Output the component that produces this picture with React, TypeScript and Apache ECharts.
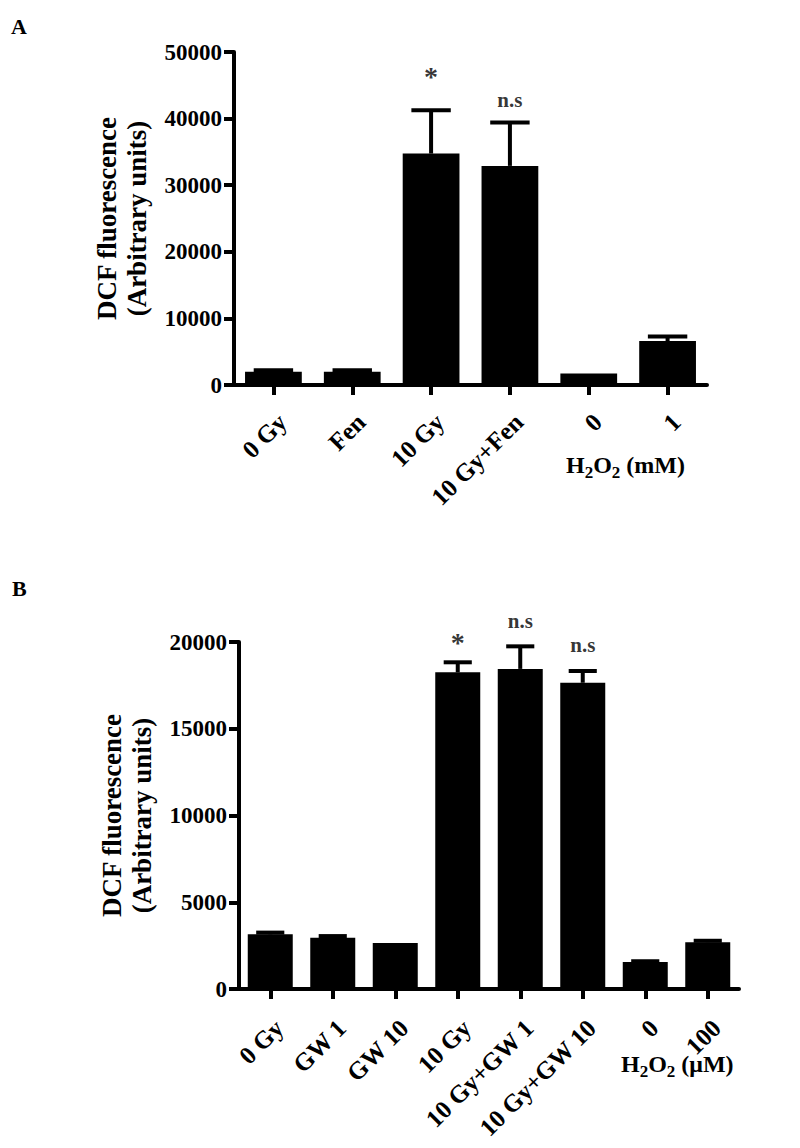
import React, { useEffect, useRef } from 'react';
import * as echarts from 'echarts';

const FONT = "'Liberation Serif', 'Times New Roman', serif";

// Panel A
const aCategories = ['0 Gy', 'Fen', '10 Gy', '10 Gy+Fen', '0', '1'];
const aValues = [2000, 2000, 34750, 32900, 1730, 6600];
const aErrors = [200, 200, 6500, 6500, 0, 700];
const aMarks = ['', '', '*', 'n.s', '', ''];
const aMarkY = [0, 0, 46300, 42800, 0, 0];
const aTicks = { min: 0, max: 50000, interval: 10000 };

// Panel B
const bCategories = ['0 Gy', 'GW 1', 'GW 10', '10 Gy', '10 Gy+GW 1', '10 Gy+GW 10', '0', '100'];
const bValues = [3150, 2950, 2650, 18250, 18450, 17650, 1550, 2700];
const bErrors = [100, 100, 0, 580, 1300, 680, 50, 80];
const bMarks = ['', '', '', '*', 'n.s', 'n.s', '', ''];
const bMarkY = [0, 0, 0, 19950, 21200, 19850, 0, 0];
const bTicks = { min: 0, max: 20000, interval: 5000 };

const axisTitle = 'DCF fluorescence\n(Arbitrary units)';

const makeErr = (capRatio: number) => (params: any, api: any) => {
  const i = api.value(0);
  const v = api.value(1);
  const e = api.value(2);
  if (!e) return null;
  const base = api.coord([i, v]);
  const top = api.coord([i, v + e]);
  const band = api.size([1, 0])[0];
  const half = (band * capRatio) / 2;
  return {
    type: 'group',
    children: [
      { type: 'line', shape: { x1: base[0], y1: base[1], x2: top[0], y2: top[1] }, style: { stroke: '#000', lineWidth: 4 } },
      { type: 'line', shape: { x1: top[0] - half, y1: top[1], x2: top[0] + half, y2: top[1] }, style: { stroke: '#000', lineWidth: 4 } },
    ],
  };
};

function xAxisCfg(gridIndex: number, data: string[], margin: number) {
  return {
    gridIndex,
    type: 'category',
    data,
    axisLine: { show: true, lineStyle: { color: '#000', width: 4 } },
    axisTick: { show: true, alignWithLabel: true, length: 10, lineStyle: { color: '#000', width: 4 } },
    axisLabel: {
      rotate: 45,
      interval: 0,
      fontSize: 25,
      fontWeight: 'bold',
      fontFamily: FONT,
      color: '#000',
      margin,
      align: 'right',
      verticalAlign: 'top',
    },
  };
}

function yAxisCfg(gridIndex: number, t: { min: number; max: number; interval: number }) {
  return {
    gridIndex,
    type: 'value',
    min: t.min,
    max: t.max,
    interval: t.interval,
    splitLine: { show: false },
    axisLine: { show: true, lineStyle: { color: '#000', width: 4 } },
    axisTick: { show: true, length: 10, lineStyle: { color: '#000', width: 4 } },
    axisLabel: { fontSize: 23, fontWeight: 'bold', fontFamily: FONT, color: '#000', margin: 12, formatter: (v: number) => String(v) },
    name: axisTitle,
    nameLocation: 'middle',
    nameGap: 82,
    nameTextStyle: { fontSize: 27, fontWeight: 'bold', fontFamily: FONT, color: '#000', lineHeight: 30 },
  };
}

function seriesFor(idx: number, values: number[], errors: number[], marks: string[], markY: number[], capRatio: number) {
  return [
    { type: 'bar', xAxisIndex: idx, yAxisIndex: idx, data: values, barWidth: '72%', itemStyle: { color: '#000' }, silent: true },
    {
      type: 'custom',
      xAxisIndex: idx,
      yAxisIndex: idx,
      data: values.map((v, i) => [i, v, errors[i]]),
      renderItem: makeErr(capRatio),
      z: 3,
      clip: false,
      silent: true,
    },
    {
      type: 'scatter',
      xAxisIndex: idx,
      yAxisIndex: idx,
      data: marks.map((m, i) => (m ? [i, markY[i]] : null)).filter((d) => d !== null),
      symbolSize: 1,
      itemStyle: { color: 'rgba(0,0,0,0)' },
      clip: false,
      silent: true,
      label: {
        show: true,
        position: 'inside',
        formatter: (p: any) => (marks[p.value[0]] === '*' ? '{star|*}' : '{ns|' + marks[p.value[0]] + '}'),
        rich: {
          star: { fontSize: 28, fontWeight: 'bold', fontFamily: FONT, color: '#000' },
          ns: { fontSize: 21, fontWeight: 'bold', fontFamily: FONT, color: '#000' },
        },
      },
    },
  ];
}

const richH2O2 = (unit: string) => ({
  text: `{n|H}{s|2}{n|O}{s|2}{n| (${unit})}`,
  rich: {
    n: { fontSize: 24, fontWeight: 'bold', fontFamily: FONT, fill: '#000', verticalAlign: 'bottom', lineHeight: 30, padding: [0, 0, 4, 0] },
    s: { fontSize: 17, fontWeight: 'bold', fontFamily: FONT, fill: '#000', verticalAlign: 'bottom', lineHeight: 30 },
  },
});

export default function App() {
  const ref = useRef<HTMLDivElement>(null);
  useEffect(() => {
    if (!ref.current) return;
    const chart = echarts.init(ref.current, null, { renderer: 'svg' });
    chart.setOption({
      animation: false,
      backgroundColor: '#fff',
      grid: [
        { left: 234, top: 52, width: 473, height: 333 },
        { left: 239, top: 642, width: 500, height: 347 },
      ],
      xAxis: [xAxisCfg(0, aCategories, 24), xAxisCfg(1, bCategories, 26)],
      yAxis: [yAxisCfg(0, aTicks), yAxisCfg(1, bTicks)],
      series: [
        ...seriesFor(0, aValues, aErrors, aMarks, aMarkY, 0.5),
        ...seriesFor(1, bValues, bErrors, bMarks, bMarkY, 0.45),
      ],
      graphic: [
        { type: 'text', left: 11, top: 15, style: { text: 'A', fontSize: 22, fontWeight: 'bold', fontFamily: FONT, fill: '#000' } },
        { type: 'text', left: 12, top: 577, style: { text: 'B', fontSize: 22, fontWeight: 'bold', fontFamily: FONT, fill: '#000' } },
        { type: 'text', left: 566, top: 453, style: richH2O2('mM') },
        { type: 'text', left: 621, top: 1052, style: richH2O2('\u03BCM') },
      ],
    });
    return () => chart.dispose();
  }, []);
  return (
    <div
      ref={ref}
      style={{ position: 'absolute', left: 0, top: 0, width: 800, height: 1148, background: '#fff' }}
    />
  );
}
